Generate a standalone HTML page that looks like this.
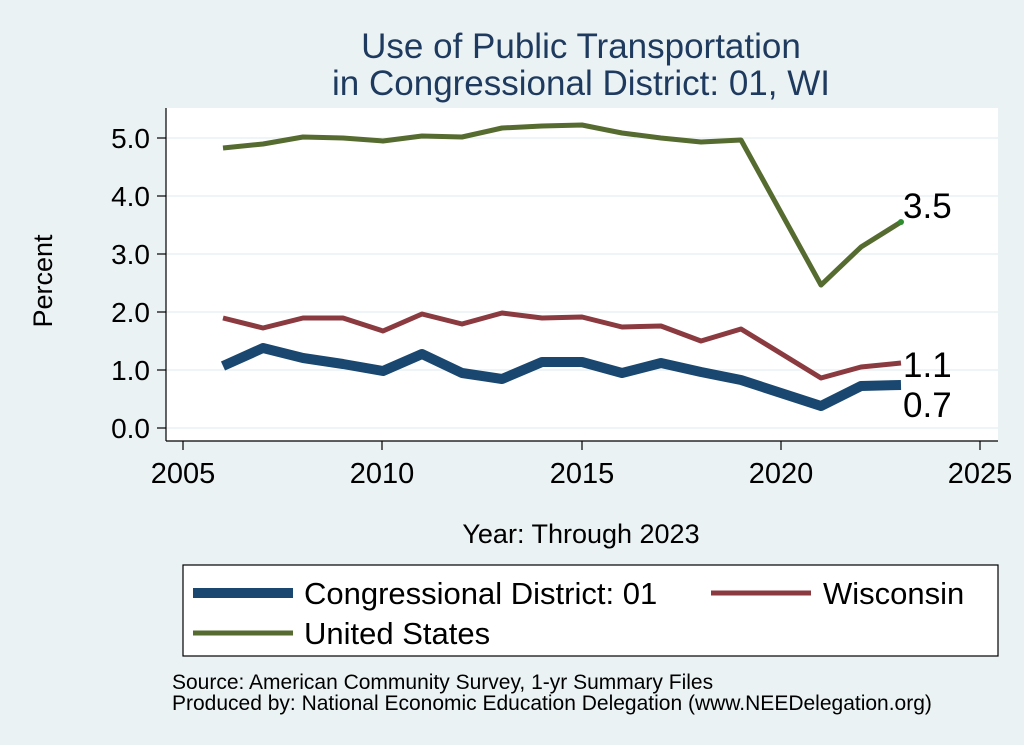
<!DOCTYPE html>
<html><head><meta charset="utf-8"><style>
html,body{margin:0;padding:0;background:#eaf2f3;}
svg{display:block;font-family:"Liberation Sans",Arial,sans-serif;}
</style></head><body>
<svg width="1024" height="745" viewBox="0 0 1024 745">
<rect width="1024" height="745" fill="#eaf2f3"/>
<rect x="166" y="108" width="832" height="333" fill="#fff"/>
<g stroke="#eaf2f3" stroke-width="1.5">
<line x1="166" x2="998" y1="428" y2="428"/><line x1="166" x2="998" y1="370" y2="370"/>
<line x1="166" x2="998" y1="312" y2="312"/><line x1="166" x2="998" y1="254" y2="254"/>
<line x1="166" x2="998" y1="196" y2="196"/><line x1="166" x2="998" y1="138" y2="138"/>
</g>
<g stroke="#000" stroke-width="1.2">
<line x1="166" y1="108" x2="166" y2="441"/><line x1="166" y1="441" x2="998" y2="441"/>
<line x1="157" x2="166" y1="428" y2="428"/><line x1="157" x2="166" y1="370" y2="370"/>
<line x1="157" x2="166" y1="312" y2="312"/><line x1="157" x2="166" y1="254" y2="254"/>
<line x1="157" x2="166" y1="196" y2="196"/><line x1="157" x2="166" y1="138" y2="138"/>
<line x1="183" x2="183" y1="441" y2="450"/><line x1="382" x2="382" y1="441" y2="450"/>
<line x1="582" x2="582" y1="441" y2="450"/><line x1="781" x2="781" y1="441" y2="450"/>
<line x1="980" x2="980" y1="441" y2="450"/>
</g>
<g font-size="28" text-anchor="end" fill="#000">
<text x="150" y="438">0.0</text><text x="150" y="380">1.0</text><text x="150" y="322">2.0</text>
<text x="150" y="264">3.0</text><text x="150" y="206">4.0</text><text x="150" y="148">5.0</text>
</g>
<g font-size="29" text-anchor="middle" fill="#000">
<text x="183" y="483">2005</text><text x="382" y="483">2010</text><text x="582" y="483">2015</text>
<text x="781" y="483">2020</text><text x="980" y="483">2025</text>
<text x="581" y="543" font-size="27">Year: Through 2023</text>
<text transform="translate(52,281) rotate(-90)" font-size="27">Percent</text>
</g>
<g font-size="35" text-anchor="middle" fill="#1f3a5f">
<text x="581" y="58">Use of Public Transportation</text>
<text x="581" y="95">in Congressional District: 01, WI</text>
</g>
<polyline fill="none" stroke="#556b2f" stroke-width="5" stroke-linejoin="round" points="
223,148 263,144 303,137 343,138 383,141 422,136 462,137 502,128 542,126 582,125 622,133 661,138 701,142 741,140 821,285 861,247 901,222"/>
<polyline fill="none" stroke="#8b3a3f" stroke-width="5" stroke-linejoin="round" points="
223,318 263,328 303,318 343,318 383,331 422,314 462,324 502,313 542,318 582,317 622,327 661,326 701,341 741,329 821,378 861,367 901,363"/>
<polyline fill="none" stroke="#1a476f" stroke-width="10" stroke-linejoin="round" points="
223,366 263,348 303,358 343,364 383,371 422,354 462,373 502,379 542,362 582,362 622,373 661,363 701,372 741,380 821,406 861,386 901,385"/>
<circle cx="901" cy="222" r="3" fill="#2e8b2e"/>
<g font-size="35" fill="#000">
<text x="903" y="218">3.5</text><text x="903" y="377">1.1</text><text x="903" y="417">0.7</text>
</g>
<rect x="183" y="565" width="815" height="91" fill="#fff" stroke="#000" stroke-width="1.2"/>
<line x1="193" x2="293" y1="593" y2="593" stroke="#1a476f" stroke-width="10"/>
<line x1="711" x2="811" y1="593" y2="593" stroke="#8b3a3f" stroke-width="5"/>
<line x1="193" x2="293" y1="633" y2="633" stroke="#556b2f" stroke-width="5"/>
<g font-size="31" fill="#000">
<text x="304" y="604">Congressional District: 01</text>
<text x="823" y="604">Wisconsin</text>
<text x="304" y="644">United States</text>
</g>
<g font-size="21" fill="#000">
<text x="172" y="689">Source: American Community Survey, 1-yr Summary Files</text>
<text x="172" y="710">Produced by: National Economic Education Delegation (www.NEEDelegation.org)</text>
</g>
</svg>
</body></html>
